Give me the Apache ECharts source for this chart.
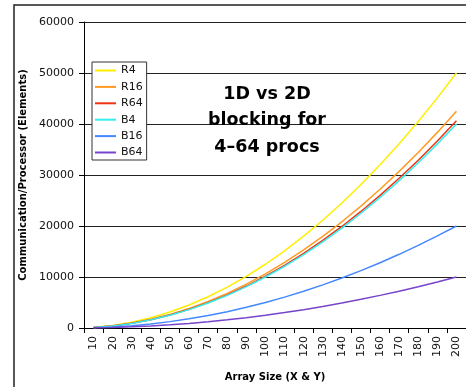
<!DOCTYPE html>
<html>
<head>
<meta charset="utf-8">
<script src="https://cdn.jsdelivr.net/npm/echarts@6/dist/echarts.min.js"></script>
<style>
html,body{margin:0;padding:0;background:#fff;}
#chart{width:466px;height:387px;}
</style>
</head>
<body>
<div id="chart"></div>
<script>
var categories = ['10','20','30','40','50','60','70','80','90','100','110','120','130','140','150','160','170','180','190','200'];
var R4  = [125, 500, 1125, 2000, 3125, 4500, 6125, 8000, 10125, 12500, 15125, 18000, 21125, 24500, 28125, 32000, 36125, 40500, 45125, 50000];
var R16 = [106, 425, 956, 1700, 2656, 3825, 5206, 6800, 8606, 10625, 12856, 15300, 17956, 20825, 23906, 27200, 30706, 34425, 38356, 42500];
var R64 = [102, 406, 914, 1625, 2539, 3656, 4977, 6500, 8227, 10156, 12289, 14625, 17164, 19906, 22852, 26000, 29352, 32906, 36664, 40625];
var B4  = [100, 400, 900, 1600, 2500, 3600, 4900, 6400, 8100, 10000, 12100, 14400, 16900, 19600, 22500, 25600, 28900, 32400, 36100, 40000];
var B16 = [50, 200, 450, 800, 1250, 1800, 2450, 3200, 4050, 5000, 6050, 7200, 8450, 9800, 11250, 12800, 14450, 16200, 18050, 20000];
var B64 = [25, 100, 225, 400, 625, 900, 1225, 1600, 2025, 2500, 3025, 3600, 4225, 4900, 5625, 6400, 7225, 8100, 9025, 10000];
var seriesNames = ['R4','R16','R64','B4','B16','B64'];
var seriesData = [R4, R16, R64, B4, B16, B64];
var colors = ['#ffee00','#ff9a22','#ee3311','#33eeee','#4488ff','#7744cc'];

var chart = echarts.init(document.getElementById('chart'), null, {renderer:'canvas'});
var font = 'DejaVu Sans';
var option = {
  animation: false,
  backgroundColor: '#ffffff',
  grid: {left: 84, top: 22, width: 383, height: 312, containLabel: false},
  legend: {
    orient: 'vertical', left: 92, top: 62,
    icon: 'rect',
    itemWidth: 21, itemHeight: 2, itemGap: 5.4,
    padding: [3, 4, 2, 3],
    backgroundColor: '#ffffff', borderColor: '#333333', borderWidth: 1,
    textStyle: {fontFamily: font, fontSize: 11, color: '#111'},
    data: seriesNames
  },
  xAxis: {
    type: 'category', data: categories, boundaryGap: true,
    name: 'Array Size (X & Y)', nameLocation: 'middle', nameGap: 44,
    nameTextStyle: {fontFamily: font, fontSize: 10, fontWeight: 'bold', color: '#000'},
    axisLine: {lineStyle: {color: '#000', width: 1}},
    axisTick: {show: true, length: 5, lineStyle: {color: '#000'}},
    axisLabel: {rotate: 90, margin: 8, fontFamily: font, fontSize: 11, color: '#111', interval: 0},
    splitLine: {show: false}
  },
  yAxis: {
    type: 'value', min: 0, max: 60000, interval: 10000,
    name: 'Communication/Processor (Elements)', nameLocation: 'middle', nameGap: 46, nameRotate: 90,
    nameTextStyle: {fontFamily: font, fontSize: 10, fontWeight: 'bold', color: '#000'},
    axisLine: {show: true, lineStyle: {color: '#000', width: 1}},
    axisTick: {show: true, length: 5, lineStyle: {color: '#000'}},
    axisLabel: {margin: 10, fontFamily: font, fontSize: 11, color: '#111', formatter: function(v){ return String(v); }},
    splitLine: {show: true, lineStyle: {color: '#222', width: 1}}
  },
  series: seriesNames.map(function(n, i){
    return {
      name: n, type: 'line', data: seriesData[i], symbol: 'none', showSymbol: false,
      lineStyle: {color: colors[i], width: 1.5}, itemStyle: {color: colors[i]},
      z: 2 + i
    };
  }),
  graphic: [
    {type: 'rect', shape: {x: 14, y: 5, width: 480, height: 420}, style: {fill: 'none', stroke: '#222', lineWidth: 1.5}, silent: true, z: 0},
    {type: 'text', x: 267, y: 94.5, style: {text: '1D vs 2D', font: 'bold 17.5px "DejaVu Sans"', fill: '#000', textAlign: 'center', textVerticalAlign: 'middle'}, z: 10},
    {type: 'text', x: 267, y: 120.5, style: {text: 'blocking for', font: 'bold 17.5px "DejaVu Sans"', fill: '#000', textAlign: 'center', textVerticalAlign: 'middle'}, z: 10},
    {type: 'text', x: 267, y: 147, style: {text: '4\u201364 procs', font: 'bold 17.5px "DejaVu Sans"', fill: '#000', textAlign: 'center', textVerticalAlign: 'middle'}, z: 10}
  ]
};
chart.setOption(option);
</script>
</body>
</html>
